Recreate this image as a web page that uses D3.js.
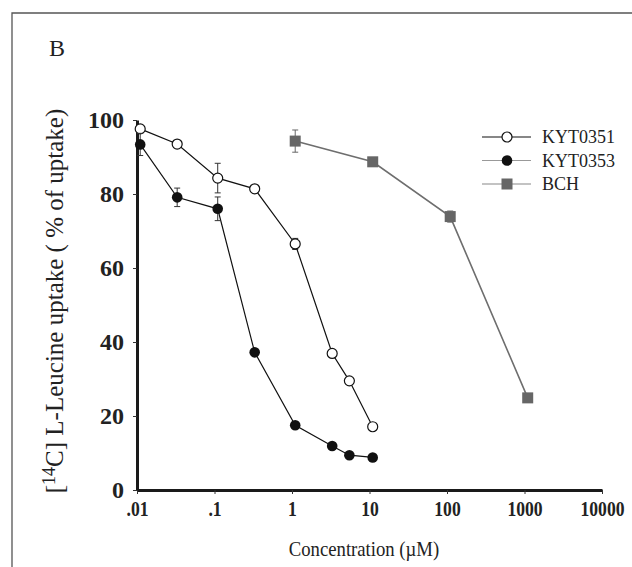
<!DOCTYPE html>
<html lang="en">
<head>
  <meta charset="UTF-8" />
  <title>L-Leucine uptake inhibition</title>
  <script src="https://d3js.org/d3.v7.min.js"></script>
  <style>
    body {
      margin: 0;
      padding: 0;
      background: #fff;
    }
    svg text {
      font-family: "Liberation Serif", "Times New Roman", serif;
      fill: #222;
    }
  </style>
</head>
<body>
  <div id="chart"></div>

  <script>
    // ---- data ----
    const conc = [0.011, 0.033, 0.11, 0.33, 1.1, 3.3, 5.5, 11];
    const kyt0351 = [97.6, 93.5, 84.3, 81.4, 66.5, 36.9, 29.5, 17.1];
    const kyt0351Err = [1, 0.5, 4, 1, 1.5, 0.5, 0.5, 0.5];
    const kyt0353 = [93.4, 79.1, 76.0, 37.2, 17.5, 11.9, 9.4, 8.8];
    const kyt0353Err = [3, 2.5, 3.2, 0.5, 0.5, 0.5, 0.5, 0.5];
    const bchConc = [1.1, 11, 110, 1100];
    const bch = [94.3, 88.7, 73.9, 24.9];
    const bchErr = [3, 1, 1.5, 0.5];

    const xTicks = [0.01, 0.1, 1, 10, 100, 1000, 10000];
    const xTickLabels = [".01", ".1", "1", "10", "100", "1000", "10000"];
    const yTicks = [0, 20, 40, 60, 80, 100];
    const seriesNames = ["KYT0351", "KYT0353", "BCH"];

    // ---- layout ----
    const width = 632;
    const height = 567;

    const svg = d3.select("#chart")
      .append("svg")
      .attr("width", width)
      .attr("height", height);

    // panel frame (top and left edges only)
    svg.append("path")
      .attr("d", "M12,567 L12,13 L632,13")
      .attr("fill", "none")
      .attr("stroke", "#555")
      .attr("stroke-width", 1.3);

    svg.append("text")
      .attr("x", 49)
      .attr("y", 56)
      .attr("font-size", 24)
      .text("B");

    const x = d3.scaleLog().domain([0.01, 10000]).range([137, 602]);
    const y = d3.scaleLinear().domain([0, 100]).range([490, 120]);

    // x axis
    const xAxis = svg.append("g")
      .attr("transform", "translate(0,490)")
      .call(d3.axisBottom(x)
        .tickValues(xTicks)
        .tickFormat((d, i) => xTickLabels[i])
        .tickSize(4)
        .tickSizeOuter(0)
        .tickPadding(8));
    xAxis.select(".domain").attr("stroke", "#1a1a1a").attr("stroke-width", 3);
    xAxis.selectAll(".tick line").attr("stroke", "#333");
    xAxis.selectAll(".tick text")
      .attr("font-size", 20)
      .attr("font-weight", "bold")
      .attr("font-family", "'Liberation Serif', serif")
      .attr("fill", "#222")
      .attr("transform", "scale(0.88,1)");

    // y axis
    const yAxis = svg.append("g")
      .attr("transform", "translate(137,0)")
      .call(d3.axisLeft(y)
        .tickValues(yTicks)
        .tickSize(4)
        .tickSizeOuter(0)
        .tickPadding(9));
    yAxis.select(".domain").attr("stroke", "#1a1a1a").attr("stroke-width", 3);
    yAxis.selectAll(".tick line").attr("stroke", "#333");
    yAxis.selectAll(".tick text")
      .attr("font-size", 24)
      .attr("font-weight", "bold")
      .attr("font-family", "'Liberation Serif', serif")
      .attr("fill", "#222");

    // axis titles
    svg.append("text")
      .attr("transform", "translate(364,556) scale(0.85,1)")
      .attr("text-anchor", "middle")
      .attr("font-size", 22)
      .text("Concentration (\u00b5M)");

    const yTitle = svg.append("text")
      .attr("transform", "translate(63,301) rotate(-90)")
      .attr("text-anchor", "middle")
      .attr("font-size", 25);
    yTitle.append("tspan").text("[");
    yTitle.append("tspan").attr("font-size", 18).attr("dy", -8).text("14");
    yTitle.append("tspan").attr("dy", 8).text("C] L-Leucine uptake ( % of uptake)");

    // ---- series ----
    const series = [
      { name: seriesNames[0], xs: conc, ys: kyt0351, err: kyt0351Err, line: "#111", legendLine: "#111", marker: "open" },
      { name: seriesNames[1], xs: conc, ys: kyt0353, err: kyt0353Err, line: "#111", legendLine: "#999", marker: "filled" },
      { name: seriesNames[2], xs: bchConc, ys: bch, err: bchErr, line: "#6e6e6e", legendLine: "#888", marker: "square" }
    ];

    const line = d3.line()
      .x(d => x(d[0]))
      .y(d => y(d[1]));

    function drawMarker(g, type, cx, cy) {
      if (type === "open") {
        g.append("circle").attr("cx", cx).attr("cy", cy).attr("r", 5)
          .attr("fill", "#fff").attr("stroke", "#111").attr("stroke-width", 1.2);
      } else if (type === "filled") {
        g.append("circle").attr("cx", cx).attr("cy", cy).attr("r", 5.3)
          .attr("fill", "#111");
      } else {
        g.append("rect").attr("x", cx - 5.5).attr("y", cy - 5.5)
          .attr("width", 11).attr("height", 11)
          .attr("fill", "#666");
      }
    }

    series.forEach(s => {
      const pts = s.xs.map((c, i) => [c, s.ys[i], s.err[i]]);
      const g = svg.append("g");

      g.append("path")
        .datum(pts)
        .attr("fill", "none")
        .attr("stroke", s.line)
        .attr("stroke-width", s.marker === "square" ? 1.6 : 1.2)
        .attr("d", line);

      // error bars
      pts.forEach(p => {
        const px = x(p[0]);
        const y1 = y(p[1] + p[2]);
        const y2 = y(p[1] - p[2]);
        g.append("path")
          .attr("d", `M${px},${y1}V${y2}M${px - 3},${y1}H${px + 3}M${px - 3},${y2}H${px + 3}`)
          .attr("fill", "none")
          .attr("stroke", s.marker === "square" ? "#666" : "#333")
          .attr("stroke-width", 1);
      });

      pts.forEach(p => drawMarker(g, s.marker, x(p[0]), y(p[1])));
    });

    // ---- legend ----
    const legend = svg.append("g");
    series.forEach((s, i) => {
      const ly = 137 + i * 23.5;
      legend.append("line")
        .attr("x1", 482).attr("x2", 531)
        .attr("y1", ly).attr("y2", ly)
        .attr("stroke", s.legendLine)
        .attr("stroke-width", 1.2);
      drawMarker(legend, s.marker, 507, ly);
      legend.append("text")
        .attr("x", 542)
        .attr("y", ly + 6)
        .attr("font-size", 18)
        .text(s.name);
    });
  </script>
</body>
</html>
